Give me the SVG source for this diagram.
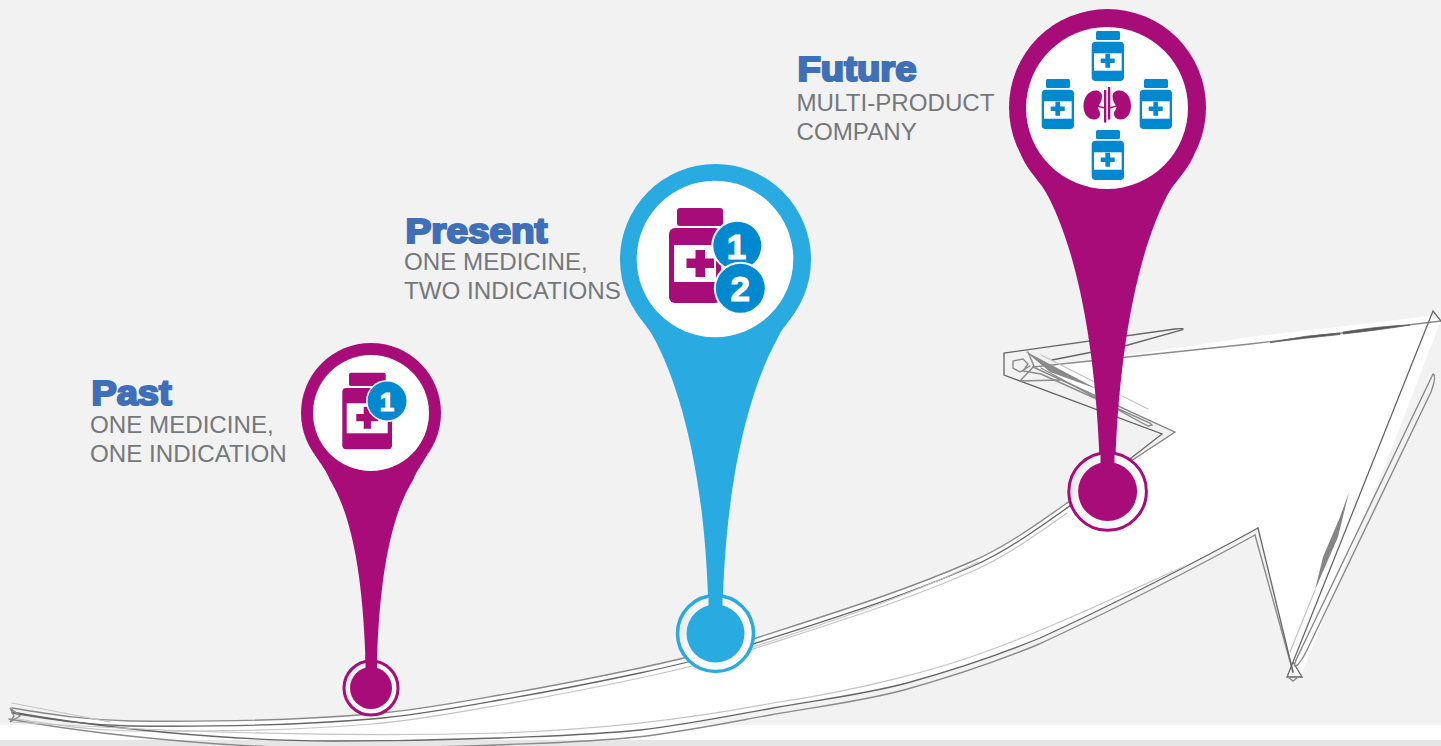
<svg xmlns="http://www.w3.org/2000/svg" xmlns:xlink="http://www.w3.org/1999/xlink" width="1441" height="746" viewBox="0 0 1441 746">
<style>
.sk{fill:none;stroke-linejoin:miter;stroke-linecap:round}
.d{stroke:#666;stroke-width:1.3}
.m{stroke:#8a8a8a;stroke-width:1.4}
.l{stroke:#c4c4c4;stroke-width:1.2}
.h{font-family:"Liberation Sans",Arial,sans-serif;font-weight:700;font-size:35px;fill:#3e6fb8;stroke:#3e6fb8;stroke-width:2.2}
.b{font-family:"Liberation Sans",Arial,sans-serif;font-size:24.150px;fill:#75787b}
.n{font-family:"Liberation Sans",Arial,sans-serif;font-weight:700;fill:#fff;text-anchor:middle;stroke:#fff;stroke-width:1.1}
.mag{fill:#a80c78}.blu{fill:#29abe2}.ic{fill:#0089cf}.wh{fill:#fff}
</style>
<defs>
<linearGradient id="ringShade" x1="0" y1="0" x2="1" y2="0.3">
<stop offset="0" stop-color="#d9dadb"/><stop offset="0.28" stop-color="#f6f6f6"/><stop offset="1" stop-color="#ffffff"/>
</linearGradient>
<g id="bottleBlue">
<rect class="ic" x="1096" y="31" width="24" height="9" rx="1.5"/>
<rect class="ic" x="1091.7" y="41.7" width="32.3" height="39.3" rx="4"/>
<rect class="wh" x="1094" y="53.3" width="27.7" height="17.4"/>
<path class="ic" d="M1105.4,53.7h4.6v4.7h4.7v4.600h-4.7v4.7h-4.600v-4.7h-4.7v-4.600h4.7z"/>
</g>
<path id="upperEdge" d="M12,708C60,716 90,720 130,721C220,722 300,720 372,714C415,710.500 455,703 500,695C547,687 593,678 640,668C677,660 713,652 750,640C824,616 900,593 973,561C1005,547 1036,525 1067,503"/>
<path id="lowerEdge" d="M1258,528C1200,560 1110,606 1040,638C996,656 943,673 907,683C862,695 817,700 773,708C729,716 685,725 640,730C593,735 547,736 500,738C444,740 389,741 333,741C230,741 100,728 12,712"/>
</defs>
<rect width="1441" height="746" fill="#f2f2f2"/>
<rect y="725" width="1441" height="15" fill="#fff"/>
<rect y="740" width="1441" height="6" fill="#e6e6e6"/>

<g id="connectors">
<path class="wh" d="M12,712C60,716 90,720 130,721C220,722 300,720 372,714C415,710.500 455,703 500,695C547,687 593,678 640,668C677,660 713,652 750,640C824,616 900,593 973,561C1005,547 1036,525 1067,503L1175,432L1033,366L1123,356L1250,337L1430,316L1441,320L1397,435L1300,678L1294,672L1258,528C1200,560 1110,606 1040,638C996,656 943,673 907,683C862,695 817,700 773,708C729,716 685,725 640,730C593,735 547,736 500,738C444,740 389,741 333,741C230,741 100,728 12,712Z"/>
<!-- upper edge -->
<use href="#upperEdge" xlink:href="#upperEdge" class="sk m"/>
<use href="#upperEdge" xlink:href="#upperEdge" class="sk d" transform="translate(0,5)"/>
<use href="#upperEdge" xlink:href="#upperEdge" class="sk l" transform="translate(0,10)"/>
<path class="sk l" d="M12,703L110,722"/>
<path class="sk m" d="M1067,503L1175,432L1033,367"/>
<path class="sk d" d="M1067,508L1162,434L1004,375L1004,353L1175,329Q1186,328 1182,330L1128,345L1052,360"/>
<!-- top edge -->
<path class="sk m" d="M1033,367L1250,344L1441,321"/>
<path d="M1270,342.500Q1305,335 1340,333L1340,334.500Q1305,338 1270,342.500ZM1343,332Q1380,326 1410,325Q1380,330 1343,334Z" fill="#555" stroke="#666" stroke-width=".8"/>
<!-- tip and right edge -->
<path class="sk d" d="M1441,321L1433,311L1287,677L1302,677L1293,662"/>
<path class="sk m" d="M1433,374Q1437,376 1431,392L1307,650Q1300,664 1296,666Q1293,668 1296,660L1433,374"/>
<path d="M1349,492L1338,537L1315,590L1323,557L1340,517Z" fill="#858585"/>
<path class="sk l" d="M1315,590L1290,652"/>
<path class="sk m" d="M1288,677L1293,681L1298,677"/>
<!-- lower edge -->
<use href="#lowerEdge" xlink:href="#lowerEdge" class="sk d"/>
<use href="#lowerEdge" xlink:href="#lowerEdge" class="sk m" transform="translate(-3,7)"/>
<path class="sk m" d="M1293,672L1255,535"/>
<path class="sk d" d="M1293,672L1258,528"/>
<path class="sk l" d="M1185,566C1110,600 1040,632 990,650C943,668 862,690 773,703C685,720 593,730 500,733C389,736 230,736 12,722"/>
<path class="sk l" d="M978,562C910,596 830,622 750,648"/>
<!-- notch details -->
<path d="M1025,351L1097,389L1050,372Z" fill="#8a8a8a"/>
<path class="sk m" d="M1030,366L1020,372L1013,368L1013,361L1023,359L1028,364L1023,371L1041,374L1150,423L1152,425L1148,426L1041,368"/>
<path class="sk l" d="M1041,355L1148,409"/>
<path class="sk m" d="M1028,352L1034,366L1020,381L1060,380"/>
<path class="sk m" d="M10,708L20,716L10,722L14,716Z"/>
</g>

<g id="node-past">
<path class="mag" d="M315,455C322,466 326,470 330,480C345,505 362,550 365.500,660L377,660C380.500,550 398,505 413,480C417,470 421,466 427,455Z"/>
<circle class="mag" cx="371" cy="413" r="70"/>
<circle class="wh" cx="371" cy="413" r="58"/>
<rect class="mag" x="349" y="372.7" width="36.7" height="13.3" rx="2"/>
<rect class="mag" x="342.3" y="388" width="49.7" height="61.3" rx="4"/>
<rect class="wh" x="346.7" y="403.3" width="41" height="30"/>
<path class="mag" d="M363.7,406.7h7.200v7.400h7.400v7.200h-7.400v7.400h-7.200v-7.400h-7.400v-7.200h7.400z"/>
<circle class="wh" cx="387" cy="401" r="21"/>
<circle class="ic" cx="387" cy="401" r="19.500"/>
<text class="n" x="387" y="410.500" font-size="26">1</text>
<circle cx="371" cy="688" r="27" fill="url(#ringShade)" stroke="#a80c78" stroke-width="3"/>
<rect class="mag" x="365.500" y="655" width="11.500" height="20"/>
<circle class="mag" cx="371" cy="688" r="21"/>
<text class="h" x="91.500" y="405" textLength="80" lengthAdjust="spacingAndGlyphs">Past</text>
<text class="b" x="90" y="432.500">ONE MEDICINE,</text>
<text class="b" x="90" y="461.500">ONE INDICATION</text>
</g>

<g id="node-present">
<path class="blu" d="M638,315C645,325 650,330 655,340C672,372 703,450 708,596L723,596C728,450 759,372 776.700,340C781,330 786,325 793,315Z"/>
<circle class="blu" cx="715.500" cy="259.500" r="95.500"/>
<circle class="wh" cx="715" cy="259" r="78.300"/>
<rect class="mag" x="677" y="208" width="46" height="18" rx="3"/>
<rect class="mag" x="669" y="228" width="52" height="75" rx="6"/>
<rect class="wh" x="674" y="245" width="42" height="37"/>
<path class="mag" d="M695,251h9.500v8.500h9v9.500h-9v9h-9.500v-9h-9v-9.500h9z" transform="translate(0.500,-1)"/>
<circle class="wh" cx="737.300" cy="245.700" r="26"/>
<circle class="ic" cx="737.300" cy="245.700" r="24"/>
<text class="n" x="736.500" y="259" font-size="35">1</text>
<circle class="wh" cx="740.300" cy="288.300" r="26.500"/>
<circle class="ic" cx="740.300" cy="288.300" r="24.500"/>
<text class="n" x="740.300" y="301" font-size="35">2</text>
<circle cx="715.500" cy="633.500" r="38" fill="url(#ringShade)" stroke="#29abe2" stroke-width="3.500"/>
<rect class="blu" x="708.500" y="590" width="14" height="25"/>
<circle class="blu" cx="715.500" cy="633.500" r="29"/>
<text class="h" x="405.500" y="243" textLength="142" lengthAdjust="spacingAndGlyphs">Present</text>
<text class="b" x="404" y="270">ONE MEDICINE,</text>
<text class="b" x="404" y="299">TWO INDICATIONS</text>
</g>

<g id="node-future">
<path class="mag" d="M1021,155C1030,175 1042,182 1050,200C1066,232 1095,310 1100,470L1115,470C1120,310 1149,232 1165,200C1173,182 1185,175 1194,155Z"/>
<circle class="mag" cx="1107.500" cy="107.500" r="98.500"/>
<circle class="wh" cx="1107" cy="108" r="81"/>
<use xlink:href="#bottleBlue" href="#bottleBlue"/>
<use xlink:href="#bottleBlue" href="#bottleBlue" transform="translate(-50,48)"/>
<use xlink:href="#bottleBlue" href="#bottleBlue" transform="translate(48,48)"/>
<use xlink:href="#bottleBlue" href="#bottleBlue" transform="translate(0,99)"/>
<path class="mag" d="M1097,90.500C1090,89.500 1083.500,96 1083.500,106C1083.500,114 1088,119.500 1094,119.500C1098.500,119.500 1100.500,116 1100,113C1099.500,110 1097,108.500 1098.500,106C1100,103.500 1102,100.500 1102,96.500C1102,93 1100,91 1097,90.500Z"/>
<path class="mag" d="M1118,90.500C1125,89.500 1131,96 1131,106C1131,114 1126.500,119.500 1120.500,119.500C1116,119.500 1113.500,116 1114,113C1114.500,110 1117.500,108.500 1116,106C1114.500,103.500 1112.500,100.500 1112.500,96.500C1112.500,93 1115,91 1118,90.500Z"/>
<rect class="mag" x="1104" y="90" width="2.300" height="32.500"/>
<rect class="mag" x="1108" y="87" width="2.300" height="32.500"/>
<path class="mag" d="M1098,105.500L1104,107V108.500L1098,107ZM1110,107L1116,105.500V107L1110,108.500Z"/>
<circle cx="1107.600" cy="491.500" r="38.800" fill="url(#ringShade)" stroke="#a80c78" stroke-width="3"/>
<rect class="mag" x="1100.500" y="448" width="14" height="25"/>
<circle class="mag" cx="1107.600" cy="491.500" r="29.500"/>
<text class="h" x="797.500" y="80.500" textLength="119" lengthAdjust="spacingAndGlyphs">Future</text>
<text class="b" x="796.500" y="111">MULTI-PRODUCT</text>
<text class="b" x="796.500" y="140">COMPANY</text>
</g>
</svg>
